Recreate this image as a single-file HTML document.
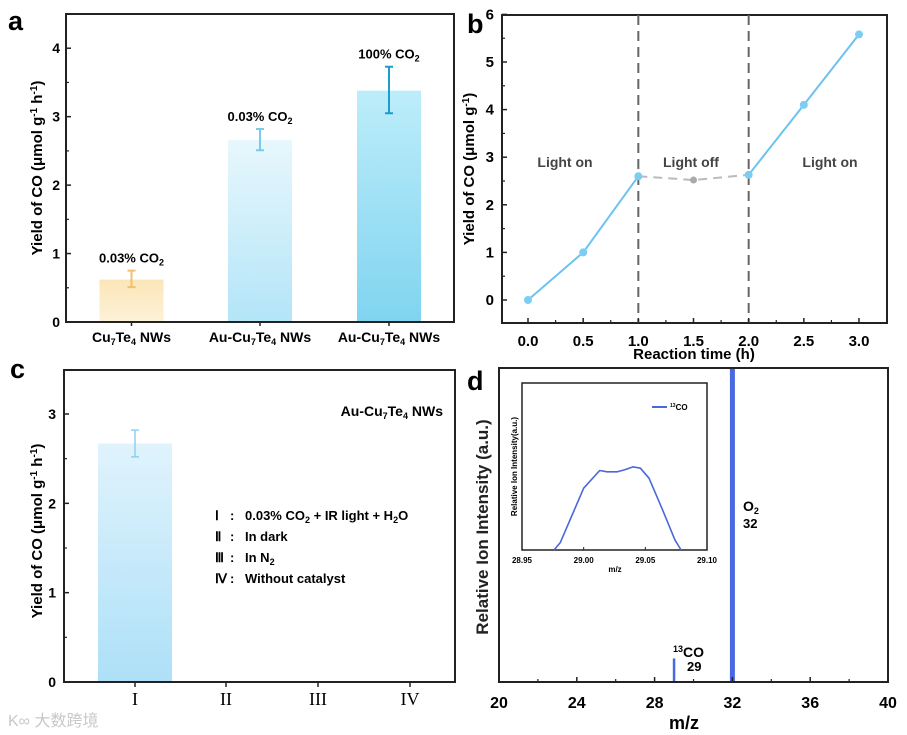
<!DOCTYPE html>
<html><head><meta charset="utf-8"><style>
body{margin:0;background:#fff}
svg{display:block;font-family:"Liberation Sans",Arial,sans-serif}
</style></head><body>
<svg id="fig" width="907" height="735" viewBox="0 0 907 735" xmlns="http://www.w3.org/2000/svg">
<defs>
<linearGradient id="gA1" x1="0" y1="0" x2="0" y2="1"><stop offset="0" stop-color="#fbe6b8"/><stop offset="1" stop-color="#fdf1d8"/></linearGradient>
<linearGradient id="gA2" x1="0" y1="0" x2="0" y2="1"><stop offset="0" stop-color="#e8f7fd"/><stop offset="1" stop-color="#b3e5f8"/></linearGradient>
<linearGradient id="gA3" x1="0" y1="0" x2="0" y2="1"><stop offset="0" stop-color="#bdedfa"/><stop offset="1" stop-color="#80d4f0"/></linearGradient>
<linearGradient id="gC1" x1="0" y1="0" x2="0" y2="1"><stop offset="0" stop-color="#e0f3fc"/><stop offset="1" stop-color="#ade0f8"/></linearGradient>
</defs>
<g id="pa"></g>
<g id="pb"></g>
<g id="pc"></g>
<g id="pd"></g>
<text x="8" y="726" font-size="16" fill="#c8c8c8" font-family="'Liberation Sans','Noto Sans CJK SC',sans-serif">K∞ 大数跨境</text>
</svg>
<script>
// Panel a data
const aCategories = ["Cu7Te4 NWs","Au-Cu7Te4 NWs","Au-Cu7Te4 NWs"];
const aValues = [0.62, 2.66, 3.38];
const aErrLow = [0.51, 2.51, 3.05];
const aErrHigh = [0.75, 2.82, 3.73];
const aNotes = ["0.03% CO", "0.03% CO", "100% CO"];
const aTicks = [0,1,2,3,4];
// Panel b data
const bTimes = [0, 0.5, 1.0];
const bOn1 = [0, 1.0, 2.6];
const bOffTimes = [1.0, 1.5, 2.0];
const bOff = [2.6, 2.52, 2.63];
const bTimes2 = [2.0, 2.5, 3.0];
const bOn2 = [2.63, 4.1, 5.58];
const bXTicks = [0,0.5,1,1.5,2,2.5,3];
const bYTicks = [0,1,2,3,4,5,6];
// Panel c data
const cCategories = ["I","II","III","IV"];
const cValues = [2.67, 0, 0, 0];
const cErrLow = [2.52];
const cErrHigh = [2.82];
const cTicks = [0,1,2,3];
// Panel d data
const dPeakMz = [29, 32];
const dPeakHeight = [0.075, 1.0];
const dXTicks = [20,24,28,32,36,40];
const insetMz = [28.976,28.981,29.000,29.013,29.019,29.027,29.033,29.040,29.046,29.053,29.064,29.074,29.079];
const insetI = [0,0.044,0.37,0.476,0.468,0.468,0.48,0.498,0.49,0.43,0.24,0.06,0];
const insetTicks = ["28.95","29.00","29.05","29.10"];

const NS="http://www.w3.org/2000/svg";
function mk(parent,tag,attrs,text){const e=document.createElementNS(NS,tag);for(const k in attrs)e.setAttribute(k,attrs[k]);if(text!==undefined)e.innerHTML=text;parent.appendChild(e);return e;}
function lin(d0,d1,r0,r1){return v=>r0+(v-d0)*(r1-r0)/(d1-d0);}

// ---------- Panel a ----------
(function(){
const g=document.getElementById('pa');
const L=66,R=454,T=14,B=322;
const y=lin(0,4.5,B,T);
const xc=[131.5,260,389], bw=64;
const grads=["url(#gA1)","url(#gA2)","url(#gA3)"], ecol=["#f0c070","#7ccaea","#1a9ed0"];
aValues.forEach((v,i)=>{
 const r=mk(g,'rect',{x:xc[i]-bw/2,y:y(v),width:bw,height:B-y(v),fill:grads[i]});
 
 
 const e=mk(g,'path',{d:`M${xc[i]},${y(aErrLow[i])}V${y(aErrHigh[i])}M${xc[i]-4},${y(aErrLow[i])}h8M${xc[i]-4},${y(aErrHigh[i])}h8`,stroke:ecol[i],'stroke-width':2,fill:'none'});
 
 
 const t=mk(g,'text',{x:xc[i],y:y(aErrHigh[i])-8,'text-anchor':'middle','font-size':13,'font-weight':'bold'},aNotes[i]+'<tspan font-size="9" dy="3">2</tspan>');
 
 
 const xl=mk(g,'text',{x:xc[i],y:342,'text-anchor':'middle','font-size':14,'font-weight':'bold'},aCategories[i].replace('Cu7Te4','Cu<tspan font-size="9" dy="3">7</tspan><tspan dy="-3">Te</tspan><tspan font-size="9" dy="3">4</tspan><tspan dy="-3"> </tspan>').replace(' NWs','NWs'));
 
 
});
const box=mk(g,'rect',{x:L,y:T,width:R-L,height:B-T,fill:'none',stroke:'#222','stroke-width':2});


aTicks.forEach(v=>{mk(g,'line',{x1:L,x2:L+5,y1:y(v),y2:y(v),stroke:'#222','stroke-width':1.5});
 const t=mk(g,'text',{x:L-6,y:y(v)+5,'text-anchor':'end','font-size':14,'font-weight':'bold'},v);
 
 });
[0.5,1.5,2.5,3.5].forEach(v=>mk(g,'line',{x1:L,x2:L+3,y1:y(v),y2:y(v),stroke:'#222','stroke-width':1.2}));
xc.forEach(x=>mk(g,'line',{x1:x,x2:x,y1:B,y2:B+4,stroke:'#222','stroke-width':1.5}));
const yt=mk(g,'text',{transform:`translate(42,${(T+B)/2}) rotate(-90)`,'text-anchor':'middle','font-size':15,'font-weight':'bold'},'Yield of CO (μmol g<tspan font-size="10" dy="-5">-1</tspan><tspan dy="5"> h</tspan><tspan font-size="10" dy="-5">-1</tspan><tspan dy="5">)</tspan>');


const pl=mk(g,'text',{x:8,y:30,'font-size':27,'font-weight':'bold'},'a');


})();

// ---------- Panel b ----------
(function(){
const g=document.getElementById('pb');
const L=502,R=887,T=15,B=323;
const x=lin(0,3,528,859), y=lin(0,5,300,62);
const box=mk(g,'rect',{x:L,y:T,width:R-L,height:B-T,fill:'none',stroke:'#222','stroke-width':2});


[1,2].forEach(v=>{const l=mk(g,'line',{x1:x(v),x2:x(v),y1:T,y2:B,stroke:'#666','stroke-width':2,'stroke-dasharray':'10,6'});
 
 });
const pts=(xs,ys)=>xs.map((t,i)=>x(t)+','+y(ys[i])).join(' ');
const p1=mk(g,'polyline',{points:pts(bTimes,bOn1),fill:'none',stroke:'#6cc3ef','stroke-width':2});


const p2=mk(g,'polyline',{points:pts(bOffTimes,bOff),fill:'none',stroke:'#bbb','stroke-width':2,'stroke-dasharray':'9,6'});


const p3=mk(g,'polyline',{points:pts(bTimes2,bOn2),fill:'none',stroke:'#6cc3ef','stroke-width':2});


bTimes.concat(bTimes2).forEach((t,i)=>{const v=i<3?bOn1[i]:bOn2[i-3];
 const c=mk(g,'circle',{cx:x(t),cy:y(v),r:4,fill:'#7ccdf3'});
 
 });
const cm=mk(g,'circle',{cx:x(bOffTimes[1]),cy:y(bOff[1]),r:3.5,fill:'#aaa'});


[['Light on',565,'light-on-label-1'],['Light off',691,'light-off-label'],['Light on',830,'light-on-label-2']].forEach(a=>{
 const t=mk(g,'text',{x:a[1],y:167,'text-anchor':'middle','font-size':14,'font-weight':'bold',fill:'#444'},a[0]);
 
 });
bYTicks.forEach(v=>{mk(g,'line',{x1:L,x2:L+5,y1:y(v),y2:y(v),stroke:'#222','stroke-width':1.5});
 const t=mk(g,'text',{x:L-8,y:y(v)+5,'text-anchor':'end','font-size':15,'font-weight':'bold'},v);
 
 });
[0.5,1.5,2.5,3.5,4.5,5.5].forEach(v=>mk(g,'line',{x1:L,x2:L+3,y1:y(v),y2:y(v),stroke:'#222','stroke-width':1.2}));
bXTicks.forEach(v=>{mk(g,'line',{x1:x(v),x2:x(v),y1:B,y2:B-5,stroke:'#222','stroke-width':1.5});
 const t=mk(g,'text',{x:x(v),y:346,'text-anchor':'middle','font-size':15,'font-weight':'bold'},v.toFixed(1));
 
 });
[0.25,0.75,1.25,1.75,2.25,2.75].forEach(v=>mk(g,'line',{x1:x(v),x2:x(v),y1:B,y2:B-3,stroke:'#222','stroke-width':1.2}));
const xt=mk(g,'text',{x:694,y:359,'text-anchor':'middle','font-size':15,'font-weight':'bold'},'Reaction time (h)');


const yt=mk(g,'text',{transform:`translate(474,${(T+B)/2}) rotate(-90)`,'text-anchor':'middle','font-size':15,'font-weight':'bold'},'Yield of CO (μmol g<tspan font-size="10" dy="-5">-1</tspan><tspan dy="5">)</tspan>');


const pl=mk(g,'text',{x:467,y:33,'font-size':27,'font-weight':'bold'},'b');


})();

// ---------- Panel c ----------
(function(){
const g=document.getElementById('pc');
const L=64,R=455,T=370,B=682;
const y=lin(0,3,B,414);
const xc=[135,226,318,410], bw=74;
cValues.forEach((v,i)=>{if(v<=0)return;
 const r=mk(g,'rect',{x:xc[i]-bw/2,y:y(v),width:bw,height:B-y(v),fill:'url(#gC1)'});
 
 
 const e=mk(g,'path',{d:`M${xc[i]},${y(cErrLow[i])}V${y(cErrHigh[i])}M${xc[i]-4},${y(cErrLow[i])}h8M${xc[i]-4},${y(cErrHigh[i])}h8`,stroke:'#8fd0ee','stroke-width':1.5,fill:'none'});
 
 });
const box=mk(g,'rect',{x:L,y:T,width:R-L,height:B-T,fill:'none',stroke:'#222','stroke-width':2});


cTicks.forEach(v=>{mk(g,'line',{x1:L,x2:L+5,y1:y(v),y2:y(v),stroke:'#222','stroke-width':1.5});
 const t=mk(g,'text',{x:L-8,y:y(v)+5,'text-anchor':'end','font-size':14,'font-weight':'bold'},v);
 
 });
[0.5,1.5,2.5].forEach(v=>mk(g,'line',{x1:L,x2:L+3,y1:y(v),y2:y(v),stroke:'#222','stroke-width':1.2}));
cCategories.forEach((c,i)=>{mk(g,'line',{x1:xc[i],x2:xc[i],y1:B,y2:B+5,stroke:'#222','stroke-width':1.5});
 const t=mk(g,'text',{x:xc[i],y:705,'text-anchor':'middle','font-size':18,'font-family':"'Liberation Serif',serif"},c);
 
 });
const ann=mk(g,'text',{x:443,y:416,'text-anchor':'end','font-size':14,'font-weight':'bold'},'Au-Cu<tspan font-size="9" dy="3">7</tspan><tspan dy="-3">Te</tspan><tspan font-size="9" dy="3">4</tspan><tspan dy="-3"> NWs</tspan>');


const lines=[['Ⅰ',':','0.03% CO<tspan font-size="9" dy="3">2</tspan><tspan dy="-3"> + IR light + H</tspan><tspan font-size="9" dy="3">2</tspan><tspan dy="-3">O</tspan>'],['Ⅱ',':','In dark'],['Ⅲ',':','In N<tspan font-size="9" dy="3">2</tspan>'],['Ⅳ',':','Without catalyst']];
lines.forEach((l,i)=>{const yy=520+i*21;
 const t=mk(g,'text',{x:215,y:yy,'font-size':13,'font-weight':'bold'},`<tspan>${l[0]}</tspan><tspan x="230">${l[1]}</tspan><tspan x="245">${l[2]}</tspan>`);
 
 });
const yt=mk(g,'text',{transform:`translate(42,${(T+B)/2+5}) rotate(-90)`,'text-anchor':'middle','font-size':15,'font-weight':'bold'},'Yield of CO (μmol g<tspan font-size="10" dy="-5">-1</tspan><tspan dy="5"> h</tspan><tspan font-size="10" dy="-5">-1</tspan><tspan dy="5">)</tspan>');


const pl=mk(g,'text',{x:10,y:378,'font-size':27,'font-weight':'bold'},'c');


})();

// ---------- Panel d ----------
(function(){
const g=document.getElementById('pd');
const L=499,R=888,T=368,B=682;
const x=lin(20,40,L,R), y=lin(0,1,B,T);
dPeakMz.forEach((m,i)=>{const l=mk(g,'line',{x1:x(m),x2:x(m),y1:B,y2:y(dPeakHeight[i]),stroke:'#4a68e0','stroke-width':i?5:2.5});
 
 });
const box=mk(g,'rect',{x:L,y:T,width:R-L,height:B-T,fill:'none',stroke:'#222','stroke-width':2});


dXTicks.forEach(v=>{mk(g,'line',{x1:x(v),x2:x(v),y1:B,y2:B-5,stroke:'#222','stroke-width':1.5});
 const t=mk(g,'text',{x:x(v),y:708,'text-anchor':'middle','font-size':16,'font-weight':'bold'},v);
 
 });
[22,26,30,34,38].forEach(v=>mk(g,'line',{x1:x(v),x2:x(v),y1:B,y2:B-3,stroke:'#222','stroke-width':1.2}));
const xt=mk(g,'text',{x:684,y:729,'text-anchor':'middle','font-size':18,'font-weight':'bold'},'m/z');


const yt=mk(g,'text',{transform:`translate(488,527) rotate(-90)`,'text-anchor':'middle','font-size':17,'font-weight':'bold',fill:'#222'},'Relative Ion Intensity (a.u.)');


const o2=mk(g,'text',{x:743,y:511,'font-size':14,'font-weight':'bold'},'O<tspan font-size="9" dy="3">2</tspan>');


const o2n=mk(g,'text',{x:743,y:528,'font-size':13,'font-weight':'bold'},'32');


const co=mk(g,'text',{x:673,y:657,'font-size':14,'font-weight':'bold'},'<tspan font-size="9" dy="-5">13</tspan><tspan dy="5">CO</tspan>');


const con=mk(g,'text',{x:687,y:671,'font-size':13,'font-weight':'bold'},'29');


// inset
const iL=522,iR=707,iT=383,iB=550;
const ix=lin(28.95,29.10,iL,iR), iy=lin(0,1,iB,iT);
const ib=mk(g,'rect',{x:iL,y:iT,width:iR-iL,height:iB-iT,fill:'#fff',stroke:'#222','stroke-width':1.5});


const curve=mk(g,'polyline',{points:insetMz.map((m,i)=>ix(m)+','+iy(insetI[i])).join(' '),fill:'none',stroke:'#4a68d8','stroke-width':1.6,'stroke-linejoin':'round'});


insetTicks.forEach(s=>{const v=parseFloat(s);mk(g,'line',{x1:ix(v),x2:ix(v),y1:iB,y2:iB-3,stroke:'#222','stroke-width':1});
 const t=mk(g,'text',{x:ix(v),y:563,'text-anchor':'middle','font-size':8,'font-weight':'bold'},s);
 
 });
const imz=mk(g,'text',{x:615,y:572,'text-anchor':'middle','font-size':8,'font-weight':'bold'},'m/z');


const iyt=mk(g,'text',{transform:`translate(517,${(iT+iB)/2}) rotate(-90)`,'text-anchor':'middle','font-size':8,'font-weight':'bold'},'Relative Ion Intensity(a.u.)');


const ll=mk(g,'line',{x1:652,x2:667,y1:407,y2:407,stroke:'#4a68d8','stroke-width':2});


const lt=mk(g,'text',{x:670,y:410,'font-size':8,'font-weight':'bold'},'<tspan font-size="5" dy="-3">13</tspan><tspan dy="3">CO</tspan>');


const pl=mk(g,'text',{x:467,y:390,'font-size':27,'font-weight':'bold'},'d');


})();
</script>
</body></html>
